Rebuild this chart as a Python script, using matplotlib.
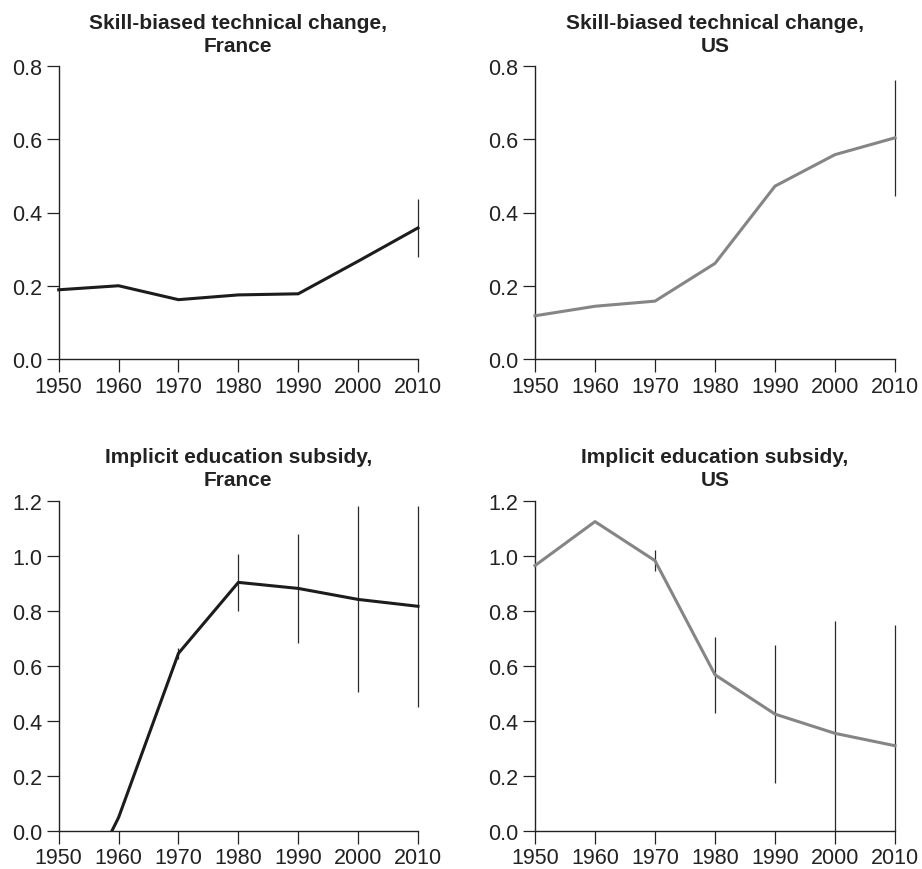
import matplotlib
matplotlib.use("Agg")
import matplotlib.pyplot as plt
from matplotlib.patches import Rectangle

plt.rcParams['font.family'] = ['Liberation Sans', 'DejaVu Sans']

years = [1950, 1960, 1970, 1980, 1990, 2000, 2010]

# skill-biased technical change
sbtc_france = [0.189, 0.200, 0.162, 0.175, 0.178, 0.267, 0.358]
sbtc_france_err = [None, None, None, None, None, None, 0.080]
sbtc_us = [0.118, 0.144, 0.158, 0.261, 0.472, 0.558, 0.604]
sbtc_us_err = [None, None, None, None, None, None, 0.158]

# implicit education subsidy (France 1950 is below zero, hidden by the axis)
subs_france = [-0.39, 0.048, 0.645, 0.903, 0.881, 0.841, 0.816]
subs_france_err = [None, None, 0.020, 0.103, 0.197, 0.338, 0.365]
subs_us = [0.964, 1.124, 0.982, 0.567, 0.424, 0.354, 0.309]
subs_us_err = [None, None, 0.038, 0.139, 0.251, 0.407, 0.438]

titles = ["Skill-biased technical change,\nFrance",
          "Skill-biased technical change,\nUS",
          "Implicit education subsidy,\nFrance",
          "Implicit education subsidy,\nUS"]

BLACK = "#1c1c1c"
GREY = "#858585"
TEXT = "#222222"

W, H = 922, 870
fig = plt.figure(figsize=(W / 100, H / 100), dpi=100)


def make_axes(left, right, top, bottom):
    return fig.add_axes([left / W, 1 - bottom / H, (right - left) / W, (bottom - top) / H])


panels = [
    (make_axes(58.7, 418, 67, 360), sbtc_france, sbtc_france_err, BLACK, 0.8),
    (make_axes(535, 895, 67, 360), sbtc_us, sbtc_us_err, GREY, 0.8),
    (make_axes(58.7, 418, 501.7, 831.7), subs_france, subs_france_err, BLACK, 1.2),
    (make_axes(535, 895, 501.7, 831.7), subs_us, subs_us_err, GREY, 1.2),
]

for (ax, vals, errs, color, ymax), title in zip(panels, titles):
    # clip only below zero, so the marks at 2010 are not cut in half
    clip = Rectangle((1940, 0), 80, ymax + 1, transform=ax.transData)
    line, = ax.plot(years, vals, color=color, lw=2.2, zorder=3)
    line.set_clip_path(clip)
    for x, v, e in zip(years, vals, errs):
        if e is not None:
            vl = ax.vlines(x, v - e, v + e, color="#2a2a2a", lw=0.9, zorder=2)
            vl.set_clip_path(clip)
    ax.set_xlim(1950, 2010)
    ax.set_ylim(0, ymax)
    ax.set_xticks(years)
    ax.set_yticks([i * 0.2 for i in range(int(round(ymax / 0.2)) + 1)])
    ax.yaxis.set_major_formatter(matplotlib.ticker.FormatStrFormatter('%.1f'))
    for side in ("top", "right"):
        ax.spines[side].set_visible(False)
    for side in ("left", "bottom"):
        ax.spines[side].set_color(TEXT)
        ax.spines[side].set_linewidth(1.0)
    ax.tick_params(direction='out', length=9, width=0.9, color=TEXT,
                   labelsize=15.5, labelcolor=TEXT, pad=3)
    ax.set_title(title, fontsize=15, fontweight='bold', color=TEXT,
                 pad=11, linespacing=1.28)

fig.savefig("out.png", dpi=100)
